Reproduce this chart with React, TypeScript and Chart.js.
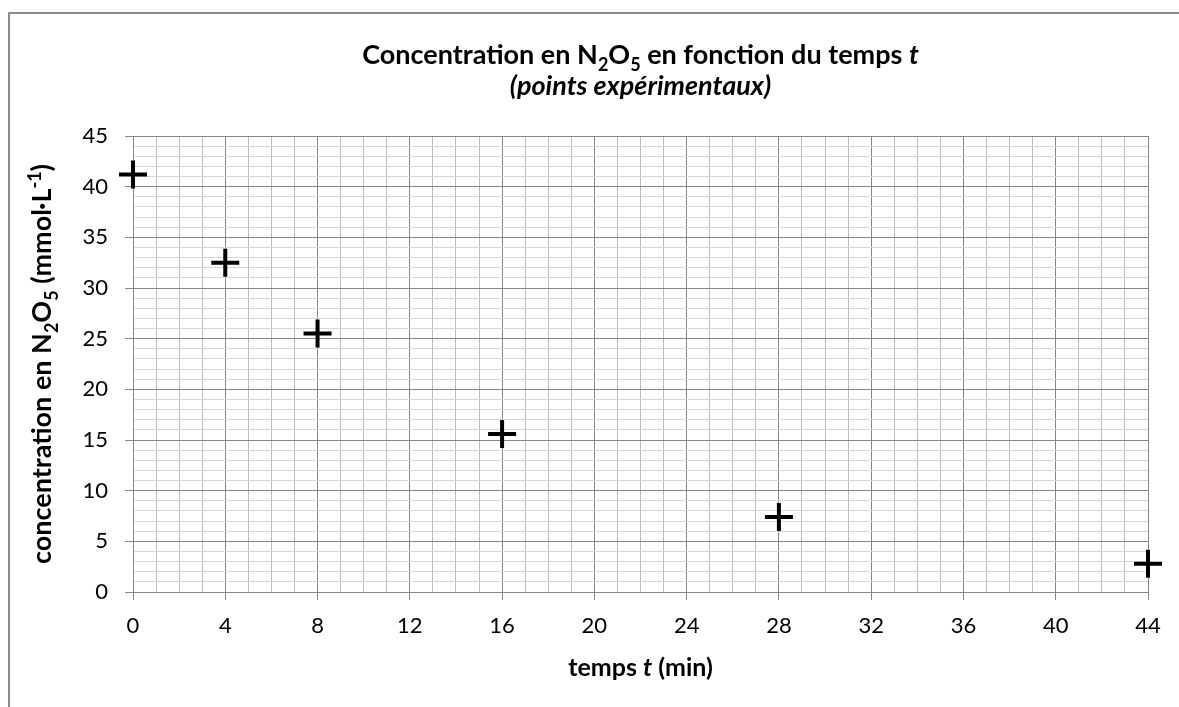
import React, { useEffect, useRef } from 'react';
import { Chart, registerables } from 'chart.js';

Chart.register(...registerables);

// ---- data ----
const timeMin = [0, 4, 8, 16, 28, 44];
const concentration = [41.2, 32.5, 25.5, 15.6, 7.4, 2.8];
const xTickLabels = ['0', '4', '8', '12', '16', '20', '24', '28', '32', '36', '40', '44'];
const yTickLabels = ['0', '5', '10', '15', '20', '25', '30', '35', '40', '45'];
const X_MAJOR = 4;
const Y_MAJOR = 5;

type Seg = { t: string; sub?: boolean; sup?: boolean; it?: boolean };

const titleLine1: Seg[] = [
  { t: 'Concentration en N' }, { t: '2', sub: true }, { t: 'O' }, { t: '5', sub: true },
  { t: ' en fonction du temps ' }, { t: 't', it: true },
];
const titleLine2: Seg[] = [{ t: '(points expérimentaux)', it: true }];
const yTitle: Seg[] = [
  { t: 'concentration en N' }, { t: '2', sub: true }, { t: 'O' }, { t: '5', sub: true },
  { t: ' (mmol·L' }, { t: '-1', sup: true }, { t: ')' },
];
const xTitle: Seg[] = [{ t: 'temps ' }, { t: 't', it: true }, { t: ' (min)' }];

const FAMILY = 'Lato, "Open Sans", sans-serif';
const MAJOR_COLOR = '#868686';
const MINOR_V = '#bdbdbd';
const MINOR_H = '#d6d6d6';

function segFont(s: Seg, size: number) {
  const sz = s.sub || s.sup ? Math.round(size * 0.65) : size;
  return `${s.it ? 'italic ' : ''}bold ${sz}px ${FAMILY}`;
}

function drawRich(ctx: CanvasRenderingContext2D, segs: Seg[], cx: number, baseY: number, size: number) {
  let total = 0;
  const widths = segs.map((s) => {
    ctx.font = segFont(s, size);
    const w = ctx.measureText(s.t).width;
    total += w;
    return w;
  });
  let x = cx - total / 2;
  ctx.textBaseline = 'alphabetic';
  ctx.textAlign = 'left';
  ctx.fillStyle = '#000';
  segs.forEach((s, i) => {
    ctx.font = segFont(s, size);
    const dy = s.sub ? size * 0.25 : s.sup ? -size * 0.38 : 0;
    ctx.fillText(s.t, x, baseY + dy);
    x += widths[i];
  });
}

const textPlugin = {
  id: 'richTexts',
  afterDraw(chart: any) {
    const { ctx, chartArea } = chart;
    const cx = (chartArea.left + chartArea.right) / 2;
    const cy = (chartArea.top + chartArea.bottom) / 2;
    ctx.save();
    drawRich(ctx, titleLine1, cx, 64, 27);
    drawRich(ctx, titleLine2, cx, 95, 27);
    drawRich(ctx, xTitle, cx, 676, 25);
    ctx.save();
    ctx.translate(51, cy);
    ctx.rotate(-Math.PI / 2);
    drawRich(ctx, yTitle, 0, 0, 27);
    ctx.restore();
    ctx.restore();
  },
};

export default function App() {
  const ref = useRef<HTMLCanvasElement | null>(null);

  useEffect(() => {
    if (!ref.current) return;
    const chart = new Chart(ref.current, {
      type: 'scatter',
      data: {
        datasets: [
          {
            label: 'points expérimentaux',
            data: timeMin.map((t, i) => ({ x: t, y: concentration[i] })),
            pointStyle: 'cross',
            pointRadius: 14,
            pointHoverRadius: 14,
            pointBorderWidth: 4,
            borderColor: '#000',
            backgroundColor: '#000',
            showLine: false,
            clip: false as any,
          },
        ],
      },
      options: {
        animation: false,
        responsive: false,
        maintainAspectRatio: false,
        layout: { padding: { top: 136, right: 31, left: 0, bottom: 0 } },
        plugins: { legend: { display: false }, title: { display: false }, tooltip: { enabled: false } },
        scales: {
          x: {
            type: 'linear',
            min: 0,
            max: Number(xTickLabels[xTickLabels.length - 1]),
            afterFit: (s: any) => { s.height = 115; },
            ticks: {
              stepSize: 1,
              autoSkip: false,
              maxRotation: 0,
              padding: 13,
              color: '#000',
              font: { family: FAMILY, size: 22 },
              callback: (v: any) => (Number(v) % X_MAJOR === 0 ? xTickLabels[Number(v) / X_MAJOR] : ''),
            },
            grid: {
              color: (c: any) => (c.tick && c.tick.value % X_MAJOR === 0 ? MAJOR_COLOR : MINOR_V),
              tickColor: (c: any) => (c.tick && c.tick.value % X_MAJOR === 0 ? MAJOR_COLOR : 'rgba(0,0,0,0)'),
              tickLength: 8,
              lineWidth: 1,
            },
            border: { color: MAJOR_COLOR, width: 1 },
          },
          y: {
            type: 'linear',
            min: 0,
            max: Number(yTickLabels[yTickLabels.length - 1]),
            afterFit: (s: any) => { s.width = 133; },
            ticks: {
              stepSize: 1,
              autoSkip: false,
              padding: 17,
              color: '#000',
              font: { family: FAMILY, size: 22 },
              callback: (v: any) => (Number(v) % Y_MAJOR === 0 ? yTickLabels[Number(v) / Y_MAJOR] : ''),
            },
            grid: {
              color: (c: any) => (c.tick && c.tick.value % Y_MAJOR === 0 ? MAJOR_COLOR : MINOR_H),
              tickColor: (c: any) => (c.tick && c.tick.value % Y_MAJOR === 0 ? MAJOR_COLOR : 'rgba(0,0,0,0)'),
              tickLength: 8,
              lineWidth: 1,
            },
            border: { color: MAJOR_COLOR, width: 1 },
          },
        },
      },
      plugins: [textPlugin],
    });
    return () => chart.destroy();
  }, []);

  return (
    <div style={{ position: 'absolute', left: 0, top: 0, width: 1179, height: 707, overflow: 'hidden', background: '#fff' }}>
      <div
        style={{
          position: 'absolute', left: 8, top: 12, width: 1200, height: 720,
          border: '2px solid #8c8c8c', boxSizing: 'border-box',
        }}
      />
      <canvas ref={ref} width={1179} height={707} style={{ position: 'absolute', left: 0, top: 0, width: 1179, height: 707 }} />
    </div>
  );
}
